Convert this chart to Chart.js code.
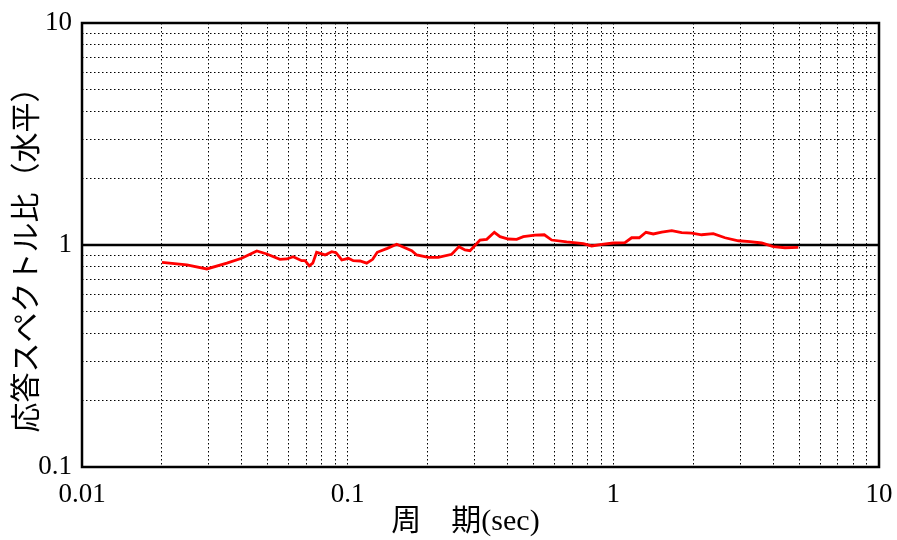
<!DOCTYPE html>
<html lang="ja">
<head>
  <meta charset="UTF-8" />
  <title>応答スペクトル比（水平）</title>
  <script src="https://cdn.jsdelivr.net/npm/chart.js"></script>
  <style>
    html, body { margin: 0; padding: 0; background: #fff; }
    #wrap { width: 897px; height: 540px; }
  </style>
</head>
<body>
  <div id="wrap"><canvas id="ratioChart"></canvas></div>

  <script>
    // 周期 (sec)
    const periodSec = [
      0.0200, 0.0248, 0.0295, 0.0351, 0.0399, 0.0455, 0.0496, 0.0556, 0.0590, 0.0624,
      0.0671, 0.0691, 0.0717, 0.0739, 0.0764, 0.0822, 0.0871, 0.0904, 0.0950, 0.1006,
      0.1050, 0.1113, 0.1179, 0.1242, 0.1292, 0.1410, 0.1530, 0.1742, 0.1819, 0.2012,
      0.2193, 0.2464, 0.2624, 0.2765, 0.2888, 0.3148, 0.3337, 0.3565, 0.3745, 0.4024,
      0.4327, 0.4583, 0.5072, 0.5497, 0.5861, 0.6674, 0.7706, 0.8288, 0.9043, 1.000,
      1.106, 1.172, 1.252, 1.327, 1.414, 1.521, 1.659, 1.808, 1.972, 2.150,
      2.378, 2.633, 2.954, 3.269, 3.618, 4.000, 4.427, 4.970
    ];
    // 応答スペクトル比（水平）
    const ratio = [
      0.836, 0.813, 0.780, 0.828, 0.871, 0.940, 0.911, 0.862, 0.865, 0.886,
      0.850, 0.850, 0.805, 0.828, 0.927, 0.902, 0.933, 0.923, 0.856, 0.871,
      0.850, 0.847, 0.828, 0.862, 0.927, 0.966, 1.007, 0.943, 0.902, 0.880,
      0.880, 0.908, 0.983, 0.950, 0.943, 1.053, 1.061, 1.141, 1.090, 1.064,
      1.061, 1.090, 1.109, 1.112, 1.053, 1.032, 1.014, 0.990, 1.007, 1.021,
      1.024, 1.078, 1.078, 1.141, 1.121, 1.144, 1.160, 1.136, 1.132, 1.112,
      1.124, 1.078, 1.045, 1.035, 1.021, 0.983, 0.972, 0.976
    ];

    // 軸
    const xRange = [0.01, 10];
    const yRange = [0.1, 10];
    const majorTicksX = [0.01, 0.1, 1, 10];
    const majorTicksY = [0.1, 1, 10];
    const refLevel = 1;

    const fontLatin = '"Liberation Serif", "Noto Sans CJK JP", serif';

    // 1〜9 × 10^n の目盛り
    function logTicks(min, max) {
      const out = [];
      for (let e = Math.round(Math.log10(min)); e < Math.round(Math.log10(max)); e++) {
        for (let m = 1; m < 10; m++) out.push({ value: m * Math.pow(10, e) });
      }
      out.push({ value: max });
      return out;
    }
    function isMajor(v, list) {
      return list.some(t => Math.abs(Math.log10(v) - Math.log10(t)) < 1e-6);
    }

    // 枠線
    const frame = {
      id: 'frame',
      afterDatasetsDraw(chart) {
        const a = chart.chartArea, ctx = chart.ctx;
        ctx.save();
        ctx.strokeStyle = '#000';
        ctx.lineWidth = 2.5;
        ctx.strokeRect(a.left, a.top, a.right - a.left, a.bottom - a.top);
        ctx.restore();
      }
    };

    new Chart(document.getElementById('ratioChart'), {
      type: 'line',
      data: {
        datasets: [
          {
            data: [{ x: xRange[0], y: refLevel }, { x: xRange[1], y: refLevel }],
            borderColor: '#000',
            borderWidth: 2.5,
            pointRadius: 0,
            order: 2
          },
          {
            data: periodSec.map((p, i) => ({ x: p, y: ratio[i] })),
            borderColor: '#ff0000',
            borderWidth: 2.8,
            pointRadius: 0,
            tension: 0,
            order: 1
          }
        ]
      },
      options: {
        responsive: true,
        maintainAspectRatio: false,
        animation: false,
        layout: { padding: { top: 23, right: 18, left: 0, bottom: 0 } },
        plugins: {
          legend: { display: false },
          tooltip: { enabled: false }
        },
        scales: {
          x: {
            type: 'logarithmic',
            min: xRange[0],
            max: xRange[1],
            afterBuildTicks: s => { s.ticks = logTicks(xRange[0], xRange[1]); },
            afterFit: s => { s.height = 73; s.paddingLeft = 0; s.paddingRight = 0; },
            border: { display: false, dash: [1.5, 2.5] },
            grid: {
              color: '#000',
              lineWidth: 1,
              drawTicks: false
            },
            ticks: {
              autoSkip: false,
              maxRotation: 0,
              padding: 12,
              color: '#000',
              font: { family: fontLatin, size: 27 },
              callback: v => isMajor(v, majorTicksX) ? String(v) : ''
            },
            title: {
              display: true,
              // 末尾の全角空白で左寄せ気味に
              text: '周　期(sec)　',
              color: '#000',
              font: { family: fontLatin, size: 30 },
              padding: { top: -8, bottom: 0 }
            }
          },
          y: {
            type: 'logarithmic',
            min: yRange[0],
            max: yRange[1],
            afterBuildTicks: s => { s.ticks = logTicks(yRange[0], yRange[1]); },
            afterFit: s => { s.width = 82; s.paddingTop = 0; s.paddingBottom = 0; },
            border: { display: false, dash: [1.5, 2.5] },
            grid: {
              color: '#000',
              lineWidth: 1,
              drawTicks: false
            },
            ticks: {
              autoSkip: false,
              padding: 10,
              color: '#000',
              font: { family: fontLatin, size: 27 },
              callback: v => isMajor(v, majorTicksY) ? String(v) : ''
            },
            title: {
              display: true,
              text: '応答スペクトル比（水平）　',
              color: '#000',
              font: { family: fontLatin, size: 30 },
              padding: { top: 10, bottom: 0 }
            }
          }
        }
      },
      plugins: [frame]
    });
  </script>
</body>
</html>
